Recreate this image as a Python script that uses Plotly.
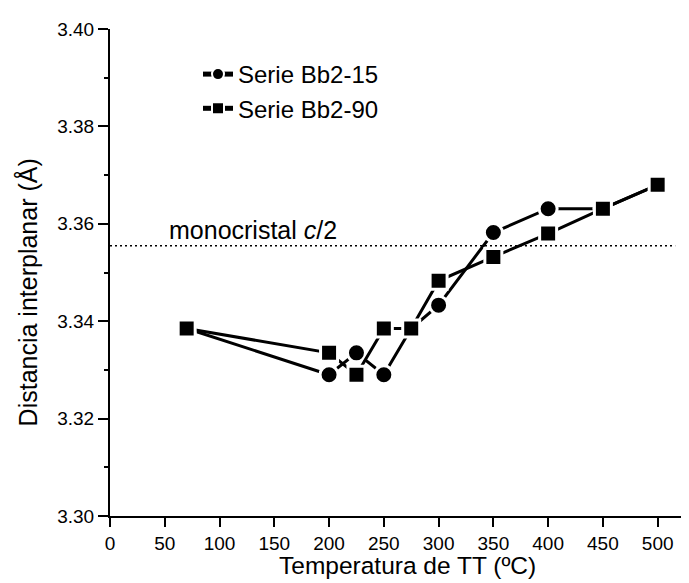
import plotly.graph_objects as go

# Data
temperatures = [70, 200, 225, 250, 275, 300, 350, 400, 450, 500]
serie_bb2_15 = [3.3385, 3.3290, 3.3335, 3.3290, 3.3385, 3.3433, 3.3582, 3.3631, 3.3631, 3.3680]
serie_bb2_90 = [3.3385, 3.3335, 3.3290, 3.3385, 3.3385, 3.3483, 3.3532, 3.3580, 3.3631, 3.3680]
series_names = ["Serie Bb2-15", "Serie Bb2-90"]
monocristal_value = 3.3555
monocristal_x_extent = [0, 516]
x_ticks = [0, 50, 100, 150, 200, 250, 300, 350, 400, 450, 500]
y_ticks = [3.30, 3.32, 3.34, 3.36, 3.38, 3.40]

FONT = "Liberation Sans, Arial, Helvetica, sans-serif"

fig = go.Figure()

fig.add_trace(go.Scatter(
    x=temperatures, y=serie_bb2_15, name=series_names[0],
    mode="lines+markers",
    line=dict(color="black", width=3),
    marker=dict(symbol="circle", size=18, color="black",
                line=dict(color="white", width=3)),
))
fig.add_trace(go.Scatter(
    x=temperatures, y=serie_bb2_90, name=series_names[1],
    mode="lines+markers",
    line=dict(color="black", width=3),
    marker=dict(symbol="square", size=17, color="black",
                line=dict(color="white", width=3)),
))

fig.add_shape(type="line", xref="x", yref="y",
              x0=monocristal_x_extent[0], x1=monocristal_x_extent[1],
              y0=monocristal_value, y1=monocristal_value,
              line=dict(color="black", width=1.6, dash="2px,3px"))

fig.add_annotation(x=52, y=3.3588, xref="x", yref="y",
                   text="monocristal <i>c</i>/2", showarrow=False,
                   xanchor="left", yanchor="middle",
                   font=dict(family=FONT, size=25, color="black"))

# Axis titles as annotations for exact placement
fig.add_annotation(x=0.508, y=0, xref="paper", yref="paper", yshift=-49,
                   text="Temperatura de TT (ºC)", showarrow=False,
                   xanchor="center", yanchor="middle",
                   font=dict(family=FONT, size=24.5, color="black"))
fig.add_annotation(x=-0.14, y=0.459, xref="paper", yref="paper",
                   text="Distancia interplanar (Å)", showarrow=False,
                   textangle=-90, xanchor="center", yanchor="middle",
                   font=dict(family=FONT, size=25, color="black"))

fig.update_layout(
    width=689, height=583,
    margin=dict(l=102, r=1, t=21, b=75),
    paper_bgcolor="white", plot_bgcolor="white",
    font=dict(family=FONT, color="black"),
    showlegend=True,
    legend=dict(x=(190 - 102) / 586, y=1 - (44 - 21) / 487,
                xanchor="left", yanchor="top",
                bgcolor="rgba(0,0,0,0)",
                font=dict(family=FONT, size=24, color="black"),
                tracegroupgap=0, itemsizing="constant"),
)

fig.update_xaxes(
    range=[0, 535], tickvals=x_ticks,
    showline=True, linecolor="black", linewidth=2,
    ticks="outside", ticklen=9, tickwidth=2, tickcolor="black",
    tickfont=dict(family=FONT, size=19, color="black"),
    showgrid=False, zeroline=False,
)
fig.update_yaxes(
    range=[3.30, 3.40], tickvals=y_ticks, tickformat=".2f",
    showline=True, linecolor="black", linewidth=2,
    ticks="outside", ticklen=10, tickwidth=2, tickcolor="black",
    tickfont=dict(family=FONT, size=19, color="black"),
    minor=dict(dtick=0.01, tick0=3.30, ticks="outside", ticklen=4,
               tickwidth=2, tickcolor="black", showgrid=False),
    showgrid=False, zeroline=False,
)

fig.write_html("out.html")
